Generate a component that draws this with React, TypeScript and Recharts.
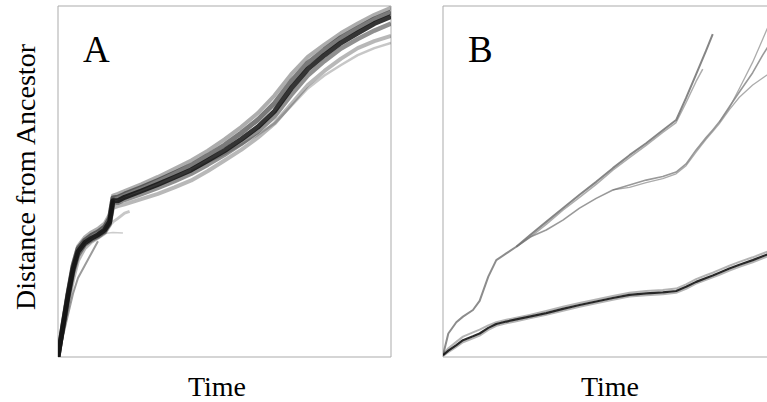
import { LineChart, Line, XAxis, YAxis, ReferenceArea } from 'recharts'

const SERIF = '"Liberation Serif", "Times New Roman", serif'

// panel A: shared time grid for the main band
const timeA = [0, 1.5, 3, 4.5, 6, 8, 10, 12, 14, 15.5, 16.5, 18, 20, 25, 30, 35, 40, 45, 50, 55, 60, 65, 70, 75, 80, 85, 90, 95, 100]
const aCore = [0, 9, 17.5, 25, 30, 32.5, 33.8, 34.8, 36.2, 38.5, 44.5, 44.5, 45.5, 47.3, 49.2, 51.2, 53.3, 56, 58.8, 62, 65.5, 70, 76.5, 82, 86, 89.5, 92.3, 95, 97]
const aUpper = [0, 9.5, 18.5, 26.5, 31.5, 34, 35.5, 36.5, 38, 40.5, 46, 46.5, 47.3, 49.2, 51.3, 53.6, 56, 58.8, 62, 65.5, 69.5, 74.5, 80.5, 85.5, 89, 92.3, 95, 97.5, 99.5]
const aMid = [0, 9.2, 18, 25.8, 30.8, 33.2, 34.6, 35.6, 37, 39.5, 45.3, 45.5, 46.4, 48.3, 50.3, 52.4, 54.6, 57.4, 60.4, 63.8, 67.6, 72.3, 78.5, 83.8, 87.5, 91, 93.7, 96.3, 98.3]
const aMidLow = [0, 8.5, 16.5, 24, 29, 32, 33.3, 34.3, 35.7, 38, 43.8, 44, 44.8, 46.4, 48.2, 50.1, 52.2, 54.8, 57.6, 60.7, 64.2, 68.5, 74.6, 80.2, 84.3, 87.9, 90.6, 93, 95]
const aLower = [0, 7.5, 15, 22, 27.5, 31, 32.8, 34, 35.3, 37.5, 42.5, 43, 43.5, 45, 46.5, 48.3, 50.3, 53, 56, 59, 62.5, 66.5, 72, 77.5, 81.5, 85, 88, 90, 91.5]

// panel A: shorter strands
const aDriftT = [40, 45, 50, 55, 60, 65, 70, 75, 80, 85, 90, 95, 100]
const aDrift = [53, 55.5, 57.8, 60.5, 63.3, 66.5, 71.5, 76.5, 80.2, 83.2, 86, 88, 89.5]
const aStayT = [14, 15.5, 16.5, 18, 20, 21.5]
const aStay = [36, 37.5, 38.5, 39.5, 41, 41.5]
const aStay2T = [12, 14, 16.5, 18, 19.5]
const aStay2 = [34.5, 35.2, 35.5, 35.4, 35.3]
const aEarlyT = [0, 1.5, 3, 4.5, 6, 8, 10, 12]
const aEarly = [0, 6, 12, 18, 22.5, 26, 29.5, 33]

// panel B: lower bundle
const timeB = [0, 1.6, 4, 6, 9, 11, 13.6, 16, 19, 22, 26, 31, 36, 41, 46, 51, 56, 61, 66, 70, 73, 76, 79, 81, 83, 86, 89, 93, 96, 98, 100]
const bLow = [0.5, 1.8, 3.4, 4.8, 5.9, 6.7, 8.3, 9.4, 10.1, 10.7, 11.5, 12.5, 13.7, 14.8, 15.8, 16.8, 17.7, 18.1, 18.4, 18.8, 20, 21.4, 22.5, 23.2, 24, 25.2, 26.3, 27.6, 28.7, 29.4, 30.1]
const bLowUp = [0.8, 2.5, 4.3, 5.8, 7, 7.8, 9, 9.9, 10.6, 11.2, 12, 13.1, 14.3, 15.4, 16.4, 17.4, 18.3, 18.8, 19.1, 19.5, 20.7, 22.2, 23.3, 24, 24.8, 26, 27.1, 28.4, 29.5, 30.2, 30.9]
const bLowDown = [0.3, 1.4, 2.9, 4.2, 5.3, 6.1, 7.7, 8.9, 9.6, 10.2, 11, 12, 13.2, 14.3, 15.3, 16.3, 17.2, 17.6, 17.9, 18.3, 19.4, 20.9, 22, 22.7, 23.4, 24.6, 25.7, 27, 28.1, 28.8, 29.5]

// panel B: upper trunk and its branches
const bTrunkT = [0, 1.6, 4, 6, 9, 11, 13.6, 16, 19, 22]
const bTrunk = [0.5, 6.7, 9.9, 11.5, 13.4, 16, 22.9, 27.6, 29.5, 31.4]
const bUp1T = [22, 26, 31, 36, 41, 46, 51, 56, 61, 66, 70, 73, 76, 79, 81]
const bUp1 = [31.4, 34.6, 38.5, 42.4, 46.2, 49.9, 53.8, 57.5, 60.9, 64.6, 67.5, 73.8, 80.5, 87.3, 92]
const bUp1bT = [22, 26, 31, 36, 41, 46, 51, 56, 61, 66, 70, 73, 76, 78]
const bUp1b = [31.4, 34, 37.8, 41.8, 45.5, 49.2, 53.2, 56.8, 60.3, 64, 66.8, 72.5, 78.5, 82]
const bUp2T = [22, 26, 31, 36, 41, 46, 51, 56, 61, 66, 70, 73, 76, 79, 81, 83, 86, 89, 93, 96, 98, 100]
const bUp2 = [31.4, 34.1, 36.2, 39, 42.4, 45.2, 47.6, 49, 50.4, 51.4, 52.7, 55, 59, 62.5, 64.7, 67, 71.3, 75.5, 81, 86, 89, 92]
const bUp2aT = [83, 86, 89, 93, 96, 98, 100]
const bUp2a = [67, 71, 76.5, 84, 90.5, 95, 99]
const bUp2bT = [51, 56, 61, 66, 70, 73, 76, 79, 81, 83, 86, 89, 93, 96, 98, 100]
const bUp2b = [47.6, 48.3, 49.7, 50.8, 52.2, 54.5, 58.4, 62, 64.2, 66.5, 70.5, 74, 77.5, 79.5, 80.8, 82]

const rows = (ts: number[], ys: number[]) => ts.map((t, i) => ({ t, y: ys[i] }))

const trace = (key: string, data: any[], stroke: string, width: number, opacity: number) => (
  <Line
    key={key}
    data={data}
    dataKey="y"
    type="linear"
    stroke={stroke}
    strokeWidth={width}
    strokeOpacity={opacity}
    strokeLinejoin="round"
    dot={false}
    activeDot={false}
    isAnimationActive={false}
  />
)

const timeLabel = (x: number) => ({
  content: () => (
    <text x={x} y={396} textAnchor="middle" fontFamily={SERIF} fontSize={28} fill="#000">
      Time
    </text>
  ),
})

export default function App() {
  return (
    <div style={{ position: 'relative', width: 767, height: 402, overflow: 'hidden', background: '#fff' }}>
      <style>{'html,body{margin:0;padding:0;overflow:hidden}'}</style>
      <div style={{ position: 'absolute', left: 0, top: 0 }}>
        <LineChart width={400} height={402} margin={{ top: 6, right: 9, bottom: 0, left: 0 }}>
          <XAxis type="number" dataKey="t" domain={[0, 100]} allowDataOverflow axisLine={false} tick={false} tickLine={false} height={45} label={timeLabel(217)} />
          <YAxis
            type="number"
            domain={[0, 100]}
            allowDataOverflow
            axisLine={false}
            tick={false}
            tickLine={false}
            width={58}
            label={{
              content: () => (
                <text x={35} y={177} transform="rotate(-90, 35, 177)" textAnchor="middle" fontFamily={SERIF} fontSize={28} fill="#000">
                  Distance from Ancestor
                </text>
              ),
            }}
          />
          <ReferenceArea x1={0} x2={100} y1={0} y2={100} fill="none" stroke="#ababab" strokeWidth={1} />
          {trace('aEarly', rows(aEarlyT, aEarly), '#222', 2, 0.45)}
          {trace('aStay', rows(aStayT, aStay), '#444', 3, 0.3)}
          {trace('aStay2', rows(aStay2T, aStay2), '#555', 1.5, 0.3)}
          {trace('aDrift', rows(aDriftT, aDrift), '#444', 2.5, 0.3)}
          {trace('aLower', rows(timeA, aLower), '#333', 4, 0.35)}
          {trace('aUpper', rows(timeA, aUpper), '#333', 4, 0.4)}
          {trace('aMidLow', rows(timeA, aMidLow), '#222', 4.5, 0.5)}
          {trace('aMid', rows(timeA, aMid), '#222', 5, 0.6)}
          {trace('aCore', rows(timeA, aCore), '#111', 5, 0.85)}
          <text x={83} y={62} fontFamily={SERIF} fontSize={37} fill="#000">A</text>
        </LineChart>
      </div>
      <div style={{ position: 'absolute', left: 400, top: 0 }}>
        <LineChart width={400} height={402} margin={{ top: 6, right: 24, bottom: 0, left: 43 }}>
          <XAxis type="number" dataKey="t" domain={[0, 100]} allowDataOverflow axisLine={false} tick={false} tickLine={false} height={45} label={timeLabel(210)} />
          <YAxis type="number" domain={[0, 100]} allowDataOverflow hide />
          <ReferenceArea x1={0} x2={100} y1={0} y2={100} fill="none" stroke="#ababab" strokeWidth={1} />
          {trace('bTrunk', rows(bTrunkT, bTrunk), '#666', 2, 0.75)}
          {trace('bUp1b', rows(bUp1bT, bUp1b), '#777', 1.5, 0.6)}
          {trace('bUp1', rows(bUp1T, bUp1), '#666', 2, 0.8)}
          {trace('bUp2b', rows(bUp2bT, bUp2b), '#888', 1.3, 0.7)}
          {trace('bUp2', rows(bUp2T, bUp2), '#777', 1.6, 0.75)}
          {trace('bUp2a', rows(bUp2aT, bUp2a), '#888', 1.3, 0.7)}
          {trace('bLowUp', rows(timeB, bLowUp), '#444', 2, 0.4)}
          {trace('bLowDown', rows(timeB, bLowDown), '#444', 2, 0.4)}
          {trace('bLow', rows(timeB, bLow), '#111', 2.2, 0.9)}
          <text x={68} y={62} fontFamily={SERIF} fontSize={37} fill="#000">B</text>
        </LineChart>
      </div>
    </div>
  )
}
